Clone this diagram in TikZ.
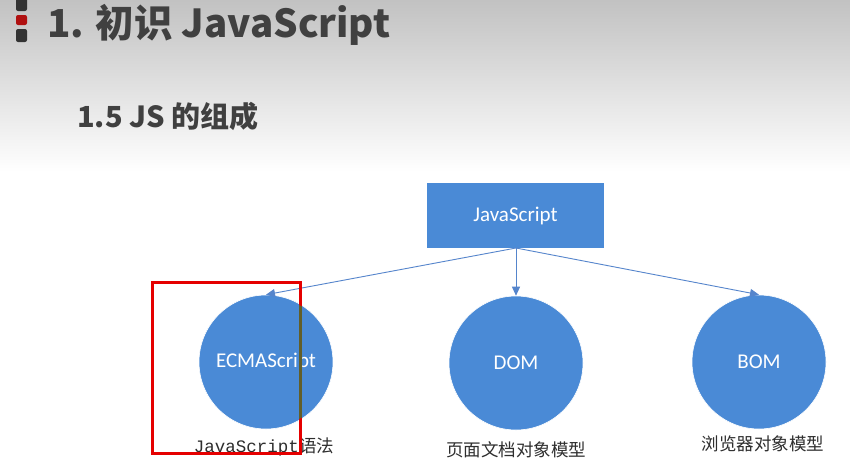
\documentclass[tikz,border=0pt]{standalone}
\usepackage{fontspec}
\usetikzlibrary{arrows.meta}
\setmainfont{Carlito}
\newfontfamily\cjk{Noto Sans CJK SC}
\newfontfamily\mono{Liberation Mono}
\definecolor{nodeblue}{HTML}{4A8AD6}
\definecolor{arrowblue}{HTML}{5585CC}
\definecolor{titlegray}{HTML}{404040}
\definecolor{labelgray}{HTML}{2E2E2E}
\definecolor{markdark}{HTML}{333333}
\definecolor{markred}{HTML}{B01010}
\tikzset{
  bluebox/.style={fill=nodeblue, draw=none, minimum width=177pt, minimum height=65pt, inner sep=0pt, text=white, font=\fontsize{21}{24}\selectfont},
  bluecirc/.style={circle, fill=nodeblue, draw=white, line width=0.6pt, minimum size=134pt, inner sep=0pt, text=white, font=\fontsize{21}{24}\selectfont},
  conn/.style={draw=arrowblue, line width=0.9pt, -{Triangle[length=9pt,width=8pt]}},
  cjklabel/.style={text=labelgray, inner sep=0pt, font=\cjk\fontsize{17.5}{20}\selectfont},
  marker/.style={fill=markdark, rounded corners=2pt},
}
\begin{document}
\begin{tikzpicture}[x=1pt,y=-1pt]
\useasboundingbox (0,0) rectangle (850,472);
\fill[white] (0,0) rectangle (850,472);
\shade[top color=black!24, bottom color=white, draw=none] (0,0) rectangle (850,172);
% marker
\fill[marker] (16,-3) rectangle (27,11);
\fill[marker, fill=markred] (16,15) rectangle (27,25);
\fill[marker] (16,29) rectangle (27,42);
% titles
\node[anchor=base west, inner sep=0pt, text=titlegray, font=\cjk\bfseries\fontsize{38.5}{44}\selectfont] (title) at (47,37) {1. 初识 JavaScript};
\node[anchor=base west, inner sep=0pt, text=titlegray, font=\cjk\bfseries\fontsize{29}{32}\selectfont] (subtitle) at (77,127) {1.5 JS 的组成};
% nodes
\node[bluebox] (js) at (515.5,215.5) {JavaScript};
\node[bluecirc] (ecma) at (266,362) {ECMAScript};
\node[bluecirc] (dom) at (516,363) {DOM};
\node[bluecirc] (bom) at (759,362) {BOM};
\coordinate (jsb) at (516,248);
\draw[conn] (jsb) -- (ecma.north);
\draw[conn] (jsb) -- (dom.north);
\draw[conn] (jsb) -- (bom.north);
% labels
\node[cjklabel, anchor=base] (l1) at (264,452) {{\mono JavaScript}语法};
\node[cjklabel, anchor=base] (l2) at (516,456) {页面文档对象模型};
\node[cjklabel, anchor=base] (l3) at (763,450) {浏览器对象模型};
% red highlight
\draw[red!90!black, line width=2.6pt] (152.5,282.5) rectangle (300.5,453.5);
\begin{scope}
\clip (ecma.center) circle (66pt);
\draw[olive!60!black, line width=2.6pt] (300.5,282) -- (300.5,454);
\end{scope}
\end{tikzpicture}
\end{document}
